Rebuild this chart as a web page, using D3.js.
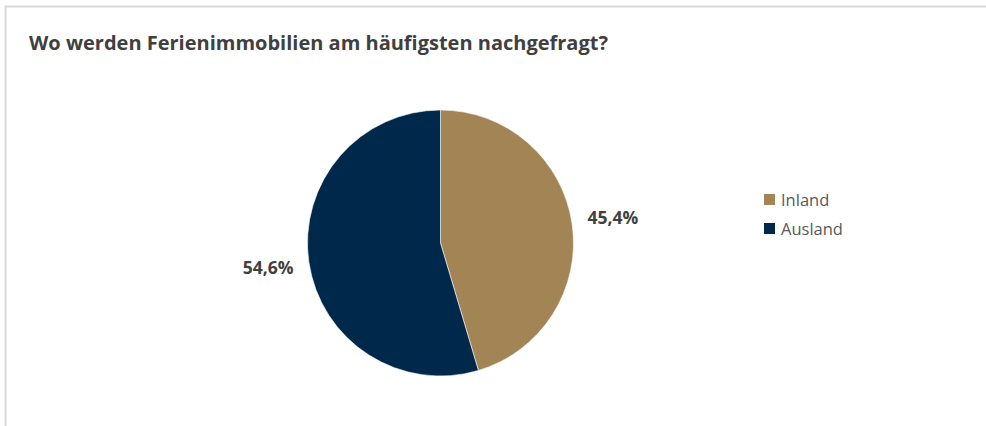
<!DOCTYPE html>
<html>
<head>
<meta charset="utf-8">
<script src="https://cdn.jsdelivr.net/npm/d3@7"></script>
<style>
  body { margin: 0; background: #fff; }
  text { font-family: "Open Sans", "Noto Sans", sans-serif; }
</style>
</head>
<body>
<div id="chart"></div>
<script>
var width = 986,
    height = 426;

var categories = ["Inland", "Ausland"];
var values = [45.4, 54.6];
var labels = ["45,4%", "54,6%"];
var colors = ["#A28455", "#00284A"];

var svg = d3.select("#chart").append("svg")
            .attr("width", width)
            .attr("height", height);

// frame
svg.append("path")
    .attr("d", "M5.5," + height + "V6.5H" + width)
    .style("fill", "none")
    .style("stroke", "#d9d9d9")
    .style("stroke-width", 2);

svg.append("text")
    .attr("x", 29)
    .attr("y", 50)
    .style("font-size", "20px")
    .style("font-weight", "bold")
    .style("fill", "#404040")
    .text("Wo werden Ferienimmobilien am häufigsten nachgefragt?");

var cx = 440.5, cy = 243, r = 133;

var pie = d3.pie().sort(null).value(d => d);
var arcs = pie(values);
var arc = d3.arc().innerRadius(0).outerRadius(r);
var labelArc = d3.arc().innerRadius(r * 1.31).outerRadius(r * 1.31);

var g = svg.append("g").attr("transform", "translate(" + cx + "," + cy + ")");

g.selectAll("path")
    .data(arcs)
    .enter().append("path")
    .attr("d", arc)
    .style("fill", (d, i) => colors[i])
    .style("stroke", "#fff")
    .style("stroke-width", 0.6);

g.selectAll("text")
    .data(arcs)
    .enter().append("text")
    .attr("transform", d => "translate(" + labelArc.centroid(d) + ")")
    .attr("text-anchor", "middle")
    .attr("dy", "0.35em")
    .style("font-size", "17.5px")
    .style("font-weight", "bold")
    .style("fill", "#404040")
    .text((d, i) => labels[i]);

var legend = svg.append("g").attr("transform", "translate(764,194)");
var item = legend.selectAll("g")
    .data(categories)
    .enter().append("g")
    .attr("transform", (d, i) => "translate(0," + i * 29 + ")");

item.append("rect")
    .attr("width", 11)
    .attr("height", 11)
    .style("fill", (d, i) => colors[i]);

item.append("text")
    .attr("x", 17)
    .attr("y", 6)
    .attr("dy", "0.35em")
    .style("font-size", "16.5px")
    .style("fill", "#595959")
    .text(d => d);
</script>
</body>
</html>
